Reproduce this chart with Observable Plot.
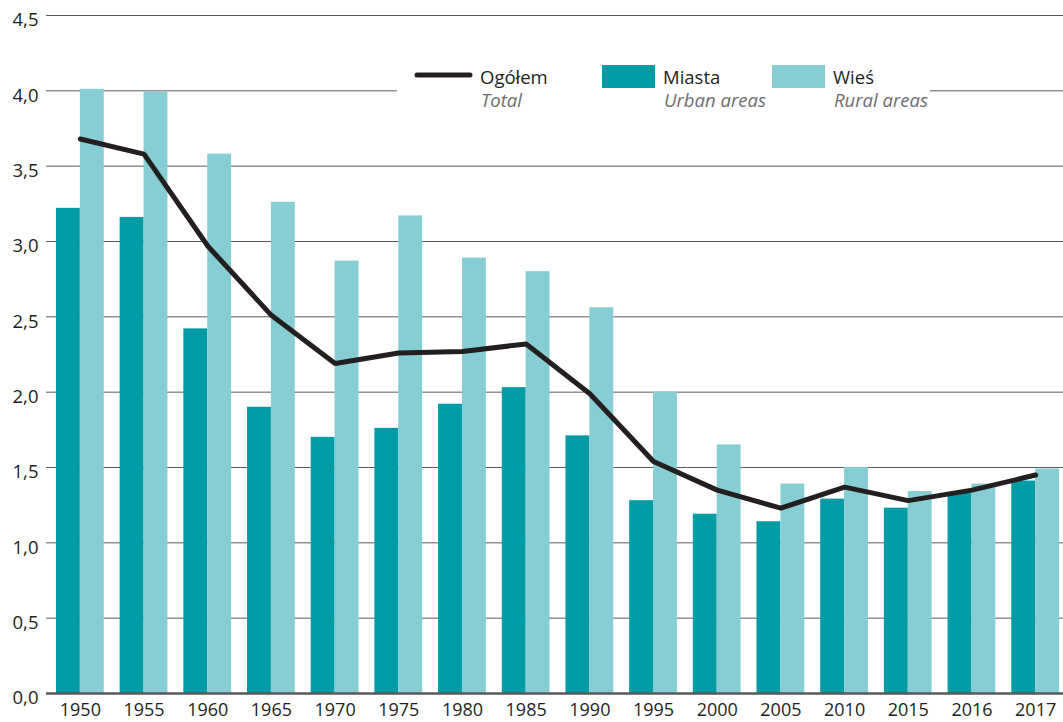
<!DOCTYPE html>
<html>
<head>
<meta charset="utf-8">
<script src="https://cdn.jsdelivr.net/npm/d3@7"></script>
<script src="https://cdn.jsdelivr.net/npm/@observablehq/plot@0.6"></script>
<style>
  html, body { margin: 0; padding: 0; background: #fff; }
  #chart { position: relative; width: 1063px; height: 722px; }
</style>
</head>
<body>
<div id="chart"></div>
<script>
const years = ["1950","1955","1960","1965","1970","1975","1980","1985","1990","1995","2000","2005","2010","2015","2016","2017"];
const miasta = [3.22, 3.16, 2.42, 1.90, 1.70, 1.76, 1.92, 2.03, 1.71, 1.28, 1.19, 1.14, 1.29, 1.23, 1.33, 1.41];
const wies   = [4.01, 3.99, 3.58, 3.26, 2.87, 3.17, 2.89, 2.80, 2.56, 2.00, 1.65, 1.39, 1.50, 1.34, 1.39, 1.49];
const ogolem = [3.68, 3.58, 2.97, 2.51, 2.19, 2.26, 2.27, 2.32, 1.99, 1.54, 1.35, 1.23, 1.37, 1.28, 1.35, 1.45];
const yTicks = [0, 0.5, 1, 1.5, 2, 2.5, 3, 3.5, 4, 4.5];
const legendMain = ["Ogółem", "Miasta", "Wieś"];
const legendSub = ["Total", "Urban areas", "Rural areas"];

const data = years.map((year, i) => ({year, miasta: miasta[i], wies: wies[i], ogolem: ogolem[i]}));

const colDark = "#009ca6", colLight = "#86ced4", colLine = "#231f20";
const half = (1019 / 16) * 0.75 / 2;

const svg = Plot.plot({
  width: 1063,
  height: 722,
  marginTop: 15,
  marginBottom: 29,
  marginLeft: 46,
  marginRight: 0,
  style: {fontFamily: "'Open Sans', sans-serif", fontSize: "18px", color: "#231f20", background: "#fff"},
  x: {type: "band", domain: years, range: [48, 1067], paddingInner: 0.25, paddingOuter: 0.125, round: false, label: null},
  y: {domain: [0, 4.5], label: null},
  marks: [
    Plot.gridY(yTicks.filter(d => d > 0), {stroke: "#58595b", strokeOpacity: 1, strokeWidth: 1}),
    Plot.barY(data, {x: "year", y: "miasta", fill: colDark, insetRight: half}),
    Plot.barY(data, {x: "year", y: "wies", fill: colLight, insetLeft: half}),
    Plot.ruleY([0], {stroke: "#58595b", strokeWidth: 2.6}),
    Plot.lineY(data, {x: "year", y: "ogolem", stroke: colLine, strokeWidth: 5, strokeLinecap: "round", strokeLinejoin: "miter"}),
    Plot.axisY({ticks: yTicks, tickFormat: d => d.toFixed(1).replace(".", ","), tickSize: 0, tickPadding: 8, dy: 5, fontSize: 18.5, label: null}),
    Plot.axisX({tickSize: 0, tickPadding: 10, fontSize: 18, label: null})
  ]
});

document.getElementById("chart").appendChild(svg);

// Legend drawn over the plot area
const g = d3.select(svg).append("g")
  .attr("font-family", "'Open Sans', sans-serif")
  .attr("font-size", 18.5)
  .attr("text-anchor", "start");
g.append("rect").attr("x", 397).attr("y", 58).attr("width", 533).attr("height", 58).attr("fill", "#fff");
g.append("line").attr("x1", 417).attr("x2", 470).attr("y1", 75).attr("y2", 75)
  .attr("stroke", colLine).attr("stroke-width", 5).attr("stroke-linecap", "round");
g.append("rect").attr("x", 602).attr("y", 65).attr("width", 53).attr("height", 23).attr("fill", colDark);
g.append("rect").attr("x", 772).attr("y", 65).attr("width", 53).attr("height", 23).attr("fill", colLight);
const tx = [480, 663, 833];
legendMain.forEach((t, i) => {
  g.append("text").attr("x", tx[i]).attr("y", 84).attr("text-anchor", "start").attr("fill", colLine).text(t);
  g.append("text").attr("x", tx[i] + 1).attr("y", 107).attr("text-anchor", "start").attr("fill", "#6d6e71").attr("font-style", "italic").text(legendSub[i]);
});
</script>
</body>
</html>
